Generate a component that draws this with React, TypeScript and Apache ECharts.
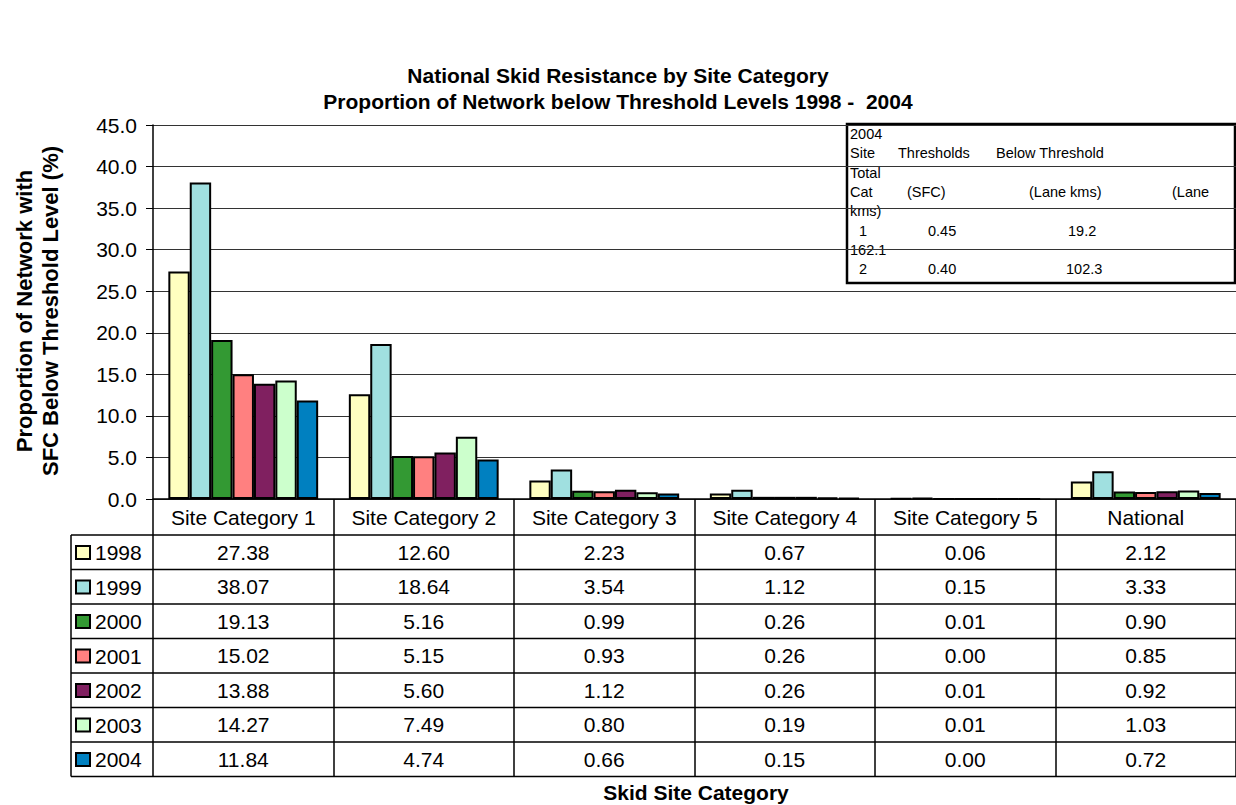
import React, { useEffect, useRef } from "react";
import * as echarts from "echarts";

const categories = ["Site Category 1", "Site Category 2", "Site Category 3", "Site Category 4", "Site Category 5", "National"];
const years = ["1998", "1999", "2000", "2001", "2002", "2003", "2004"];
const v1998 = [27.38, 12.6, 2.23, 0.67, 0.06, 2.12];
const v1999 = [38.07, 18.64, 3.54, 1.12, 0.15, 3.33];
const v2000 = [19.13, 5.16, 0.99, 0.26, 0.01, 0.9];
const v2001 = [15.02, 5.15, 0.93, 0.26, 0.0, 0.85];
const v2002 = [13.88, 5.6, 1.12, 0.26, 0.01, 0.92];
const v2003 = [14.27, 7.49, 0.8, 0.19, 0.01, 1.03];
const v2004 = [11.84, 4.74, 0.66, 0.15, 0.0, 0.72];
const seriesValues = [v1998, v1999, v2000, v2001, v2002, v2003, v2004];
const colors = ["#FFFFC0", "#A0E0E0", "#339933", "#FF8080", "#802060", "#CCFFCC", "#0080C0"];
const yMin = 0;
const yMax = 45;
const yInterval = 5;

const titleLines = ["National Skid Resistance by Site Category", "Proportion of Network below Threshold Levels 1998 -  2004"];
const yTitleLines = ["Proportion of Network with", "SFC Below Threshold Level (%)"];
const xTitle = "Skid Site Category";

// inset note box: each line is a list of text fragments
const insetLines: string[][] = [
  ["2004"],
  ["Site", "Thresholds", "Below Threshold"],
  ["Total"],
  ["Cat", "(SFC)", "(Lane kms)", "(Lane"],
  ["kms)"],
  ["1", "0.45", "19.2"],
  ["162.1"],
  ["2", "0.40", "102.3"],
];
const insetX: number[][] = [
  [850],
  [850, 898, 996],
  [850],
  [850, 907, 1029, 1172],
  [850],
  [859, 928, 1068],
  [850],
  [859, 928, 1066],
];

const FONT = "'Liberation Sans', Arial, Helvetica, sans-serif";
const GL = 153;
const GT = 125;
const GW = 1092;
const GB = 499;
const ROW0 = 535;
const ROWH = 34.5;
const TABLE_LEFT = 71;

export default function App() {
  const ref = useRef<HTMLDivElement>(null);
  useEffect(() => {
    if (!ref.current) return;
    const chart = echarts.init(ref.current, undefined, { renderer: "svg" });

    const labelFormatter = (_v: string, idx: number) => {
      const lines = [`{h|${categories[idx]}}`];
      seriesValues.forEach((arr) => lines.push(`{v|${arr[idx].toFixed(2)}}`));
      return lines.join("\n");
    };

    const graphics: any[] = [];
    // table horizontal lines
    for (let k = 0; k <= years.length; k++) {
      const y = ROW0 + ROWH * k;
      graphics.push({
        type: "line",
        shape: { x1: TABLE_LEFT, y1: y, x2: GL + GW, y2: y },
        style: { stroke: "#000", lineWidth: 1.5 },
        silent: true,
      });
    }
    graphics.push({
      type: "line",
      shape: { x1: TABLE_LEFT, y1: ROW0, x2: TABLE_LEFT, y2: ROW0 + ROWH * years.length },
      style: { stroke: "#000", lineWidth: 1.5 },
      silent: true,
    });
    // y axis title
    graphics.push({
      type: "text",
      x: 37,
      y: 311,
      rotation: Math.PI / 2,
      style: {
        text: yTitleLines.join("\n"),
        font: `bold 22px ${FONT}`,
        lineHeight: 26,
        fill: "#000",
        align: "center",
        verticalAlign: "middle",
      },
    });
    // x axis title
    graphics.push({
      type: "text",
      x: 696,
      y: 792,
      style: {
        text: xTitle,
        font: `bold 21px ${FONT}`,
        fill: "#000",
        align: "center",
        verticalAlign: "middle",
      },
    });
    // inset box
    const insetChildren: any[] = [
      {
        type: "rect",
        shape: { x: 847, y: 124, width: 388, height: 159 },
        style: { fill: "#fff", stroke: "#000", lineWidth: 2.5 },
      },
    ];
    insetLines.forEach((line, i) => {
      line.forEach((t, j) => {
        insetChildren.push({
          type: "text",
          x: insetX[i][j],
          y: 134 + 19.3 * i,
          style: {
            text: t,
            font: `14.5px ${FONT}`,
            fill: "#000",
            align: "left",
            verticalAlign: "middle",
          },
        });
      });
    });
    graphics.push({ type: "group", z: 100, children: insetChildren });

    chart.setOption({
      animation: false,
      backgroundColor: "#fff",
      textStyle: { fontFamily: FONT },
      title: {
        text: titleLines.join("\n"),
        left: "center",
        top: 62,
        padding: 0,
        textStyle: { fontSize: 21, fontWeight: "bold", color: "#000", lineHeight: 26, fontFamily: FONT },
      },
      legend: {
        orient: "vertical",
        left: 75,
        top: 542,
        itemWidth: 14,
        itemHeight: 13,
        itemGap: 13.5,
        icon: "rect",
        padding: 0,
        textStyle: { fontSize: 21, color: "#000", lineHeight: 21, fontFamily: FONT, padding: [0, 0, 0, 0] },
        data: years,
        selectedMode: false,
      },
      grid: { left: GL, top: GT, width: GW, height: GB - GT, containLabel: false },
      xAxis: {
        type: "category",
        data: categories,
        axisLine: { show: true, lineStyle: { color: "#000", width: 1.5 } },
        axisTick: { show: true, length: ROW0 + ROWH * years.length - GB, lineStyle: { color: "#000", width: 1.5 } },
        axisLabel: {
          interval: 0,
          margin: 0,
          color: "#000",
          formatter: labelFormatter,
          rich: {
            h: { fontSize: 21, lineHeight: 36, color: "#000", fontFamily: FONT },
            v: { fontSize: 21, lineHeight: ROWH, color: "#000", fontFamily: FONT },
          },
        },
        splitLine: { show: false },
      },
      yAxis: {
        type: "value",
        min: yMin,
        max: yMax,
        interval: yInterval,
        axisLine: { show: true, lineStyle: { color: "#000", width: 1.5 } },
        axisTick: { show: true, length: 7, lineStyle: { color: "#000", width: 1 } },
        axisLabel: {
          margin: 16,
          fontSize: 21,
          color: "#000",
          fontFamily: FONT,
          formatter: (v: number) => v.toFixed(1),
        },
        splitLine: { show: true, lineStyle: { color: "#333", width: 1 } },
      },
      series: years.map((y, i) => ({
        name: y,
        type: "bar",
        data: seriesValues[i],
        barGap: "0%",
        barCategoryGap: "17%",
        itemStyle: { color: colors[i], borderColor: "#000", borderWidth: 2 },
      })),
      graphic: graphics,
    });
    return () => chart.dispose();
  }, []);
  return (
    <div
      ref={ref}
      style={{ position: "fixed", left: 0, top: 0, width: 1236, height: 805, background: "#fff" }}
    />
  );
}
